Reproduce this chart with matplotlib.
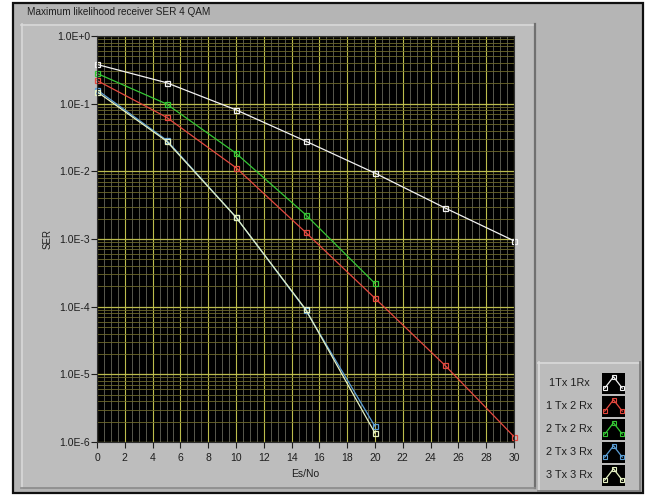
"""
Maximum likelihood receiver SER, 4 QAM - LabVIEW style graph panel.
"""
import numpy as np
import matplotlib
matplotlib.use("Agg")
import matplotlib.pyplot as plt
from matplotlib.patches import Rectangle
from matplotlib.ticker import FixedLocator, NullFormatter

W, H = 646, 496

# ── data ────────────────────────────────────────────────────────────────────
es_no = [0, 5, 10, 15, 20, 25, 30]
ser_1x1 = [0.38, 0.204, 0.081, 0.028, 0.0094, 0.0029, 0.00094]
ser_1x2 = [0.22, 0.063, 0.0113, 0.00126, 0.000133, 0.0000138, 0.0000012]
ser_2x2 = [0.28, 0.099, 0.0185, 0.0023, 0.00022]
ser_2x3 = [0.16, 0.029, 0.0021, 0.00009, 0.0000017]
ser_3x3 = [0.15, 0.028, 0.0021, 0.000092, 0.00000135]

labels = ["1Tx 1Rx", "1 Tx 2 Rx", "2 Tx 2 Rx", "2 Tx 3 Rx", "3 Tx 3 Rx"]
series = [ser_1x1, ser_1x2, ser_2x2, ser_2x3, ser_3x3]
colors = ["#f2f2f2", "#e5493f", "#35c835", "#5c9fd6", "#e6f2c4"]
x_ticks = list(range(0, 31, 2))
y_ticks = [1e0, 1e-1, 1e-2, 1e-3, 1e-4, 1e-5, 1e-6]
y_ticklabels = ["1.0E+0", "1.0E-1", "1.0E-2", "1.0E-3", "1.0E-4", "1.0E-5", "1.0E-6"]

FONT = "Liberation Sans"
TXT = "#1e1e1e"


def fr(x0, y0, x1, y1):
    """pixel box (top-left origin) -> figure fraction rect"""
    return (x0 / W, 1 - y1 / H, (x1 - x0) / W, (y1 - y0) / H)


def box(fig, x0, y0, x1, y1, fc, ec="none", lw=0):
    l, b, w, h = fr(x0, y0, x1, y1)
    fig.add_artist(Rectangle((l, b), w, h, transform=fig.transFigure,
                             facecolor=fc, edgecolor=ec, linewidth=lw, zorder=-10))


def hline(fig, x0, x1, y, c, lw=1.0):
    fig.add_artist(plt.Line2D([x0 / W, x1 / W], [1 - y / H, 1 - y / H],
                              transform=fig.transFigure, color=c, lw=lw, zorder=-5))


def vline(fig, x, y0, y1, c, lw=1.0):
    fig.add_artist(plt.Line2D([x / W, x / W], [1 - y0 / H, 1 - y1 / H],
                              transform=fig.transFigure, color=c, lw=lw, zorder=-5))


fig = plt.figure(figsize=(W / 100, H / 100), dpi=100, facecolor="white")

# ── panel frame ─────────────────────────────────────────────────────────────
box(fig, 13, 3, 643, 493, "#b5b5b5", ec="#101010", lw=1.6)
box(fig, 21, 24, 535, 488, "#bdbdbd")
hline(fig, 21, 535, 24.5, "#d8d8d8", 1.2)
vline(fig, 21.5, 24, 488, "#d8d8d8", 1.2)
vline(fig, 535, 24, 488, "#707070", 1.6)
hline(fig, 21, 535, 488, "#8a8a8a", 1.2)

# legend panel
box(fig, 538, 362, 640, 491, "#bcbcbc")
hline(fig, 538, 640, 362.5, "#dadada", 1.2)
vline(fig, 538.5, 362, 491, "#dadada", 1.2)
vline(fig, 639.5, 362, 491, "#7a7a7a", 1.2)
hline(fig, 538, 640, 490.5, "#7a7a7a", 1.2)

fig.text(27 / W, 1 - 12 / H, "Maximum likelihood receiver SER 4 QAM",
         fontsize=7.2, family=FONT, color=TXT, va="center", ha="left")

# ── main graph ──────────────────────────────────────────────────────────────
ax = fig.add_axes(fr(97, 36, 514, 442))
ax.set_facecolor("black")
ax.set_yscale("log")
ax.set_xlim(0, 30)
ax.set_ylim(1e-6, 1e0)

ax.xaxis.set_major_locator(FixedLocator(x_ticks))
ax.xaxis.set_minor_locator(FixedLocator(np.arange(0, 30.01, 0.5)))
ax.yaxis.set_major_locator(FixedLocator(y_ticks))
minor_y = [m * 10.0 ** e for e in range(-6, 0) for m in range(2, 10)]
ax.yaxis.set_minor_locator(FixedLocator(minor_y))
ax.yaxis.set_minor_formatter(NullFormatter())
ax.set_yticklabels(y_ticklabels)

ax.grid(which="major", axis="x", color="#bcbc4c", lw=0.8)
ax.grid(which="minor", axis="x", color="#66665a", lw=0.6)
ax.grid(which="major", axis="y", color="#bcbc4c", lw=0.9)
ax.grid(which="minor", axis="y", color="#6e6a2c", lw=0.6)
ax.set_axisbelow(True)

ax.tick_params(which="major", direction="out", length=4, width=0.8,
               color=TXT, labelsize=7.5, labelcolor=TXT)
ax.tick_params(axis="y", which="major", pad=1)
ax.tick_params(axis="x", which="major", pad=4)
ax.tick_params(which="minor", length=0)
for lab in ax.get_xticklabels() + ax.get_yticklabels():
    lab.set_family(FONT)
for s in ax.spines.values():
    s.set_color("#303030")
    s.set_linewidth(0.8)

for ser, col in zip(series, colors):
    ax.plot(es_no[:len(ser)], ser, color=col, lw=0.9, marker="s", ms=3.6,
            mfc="none", mec=col, mew=0.9, clip_on=False)

ax.set_xlabel("Es/No", fontsize=7.5, family=FONT, color=TXT, labelpad=4)
ax.set_ylabel("SER", fontsize=7, family=FONT, color=TXT, labelpad=3)

# ── legend: label + black swatch per plot ───────────────────────────────────
label_y = [383, 406, 429, 452, 475]
for lab, col, yc in zip(labels, colors, label_y):
    fig.text(569 / W, 1 - yc / H, lab, fontsize=7.8, family=FONT, color=TXT,
             ha="center", va="center")
    sw = fig.add_axes(fr(602, yc - 10, 625, yc + 11))
    sw.set_facecolor("black")
    sw.set_xlim(0, 1)
    sw.set_ylim(0, 1)
    sw.plot([0.12, 0.5, 0.88], [0.28, 0.82, 0.28], color=col, lw=0.9,
            marker="s", ms=3, mfc="none", mec=col, mew=0.8)
    sw.set_xticks([])
    sw.set_yticks([])
    for s in sw.spines.values():
        s.set_visible(False)

fig.savefig("out.png", dpi=100, facecolor="white")
